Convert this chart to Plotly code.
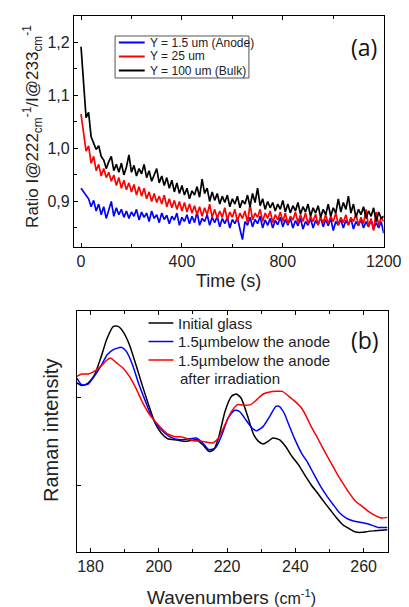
import plotly.graph_objects as go

# ---------------- Panel (a) data ----------------
time_s = list(range(0, 1201, 10))

ratio_anode = [
    0.925, 0.918, 0.912, 0.905, 0.890, 0.902, 0.882, 0.895, 0.875, 0.890,
    0.868, 0.885, 0.900, 0.872, 0.888, 0.875, 0.885, 0.870, 0.882, 0.868,
    0.880, 0.872, 0.885, 0.865, 0.880, 0.870, 0.878, 0.862, 0.882, 0.868,
    0.875, 0.860, 0.878, 0.866, 0.874, 0.858, 0.872, 0.865, 0.878, 0.855,
    0.870, 0.862, 0.875, 0.858, 0.872, 0.860, 0.880, 0.855, 0.868, 0.862,
    0.875, 0.855, 0.870, 0.860, 0.872, 0.852, 0.868, 0.858, 0.870, 0.850,
    0.866, 0.858, 0.870, 0.848, 0.828, 0.862, 0.855, 0.870, 0.852, 0.866,
    0.858, 0.872, 0.850, 0.865, 0.855, 0.868, 0.850, 0.864, 0.856, 0.870,
    0.852, 0.866, 0.855, 0.868, 0.850, 0.864, 0.854, 0.868, 0.848, 0.862,
    0.855, 0.868, 0.850, 0.864, 0.856, 0.870, 0.852, 0.866, 0.854, 0.868,
    0.845, 0.862, 0.855, 0.866, 0.850, 0.864, 0.856, 0.868, 0.848, 0.862,
    0.854, 0.866, 0.850, 0.862, 0.852, 0.865, 0.848, 0.860, 0.850, 0.862,
    0.840,
]

ratio_25um = [
    1.065, 1.030, 0.995, 1.005, 0.972, 0.985, 0.958, 0.970, 0.948, 0.962,
    0.945, 0.955, 0.938, 0.950, 0.930, 0.945, 0.925, 0.940, 0.922, 0.935,
    0.918, 0.932, 0.912, 0.928, 0.910, 0.925, 0.905, 0.918, 0.900, 0.915,
    0.898, 0.910, 0.895, 0.912, 0.890, 0.905, 0.888, 0.902, 0.885, 0.900,
    0.882, 0.898, 0.880, 0.895, 0.878, 0.892, 0.875, 0.890, 0.872, 0.888,
    0.875, 0.895, 0.870, 0.885, 0.868, 0.882, 0.870, 0.888, 0.865, 0.880,
    0.870, 0.885, 0.862, 0.878, 0.868, 0.882, 0.860, 0.895, 0.865, 0.878,
    0.870, 0.885, 0.862, 0.878, 0.868, 0.882, 0.860, 0.875, 0.865, 0.880,
    0.862, 0.878, 0.858, 0.872, 0.865, 0.880, 0.860, 0.875, 0.862, 0.878,
    0.858, 0.872, 0.862, 0.876, 0.855, 0.870, 0.860, 0.875, 0.858, 0.872,
    0.862, 0.878, 0.856, 0.870, 0.860, 0.875, 0.855, 0.870, 0.862, 0.876,
    0.855, 0.870, 0.858, 0.885, 0.852, 0.868, 0.845, 0.880, 0.855, 0.870,
    0.862,
]

ratio_bulk = [
    1.192, 1.125, 1.058, 1.068, 1.022, 1.010, 0.998, 1.005, 0.985, 0.978,
    0.962, 0.975, 0.985, 0.958, 0.970, 0.955, 0.972, 0.950, 0.965, 0.988,
    0.955, 0.968, 0.948, 0.962, 0.952, 0.970, 0.945, 0.958, 0.938, 0.950,
    0.962, 0.935, 0.948, 0.930, 0.945, 0.925, 0.940, 0.918, 0.935, 0.915,
    0.930, 0.912, 0.925, 0.905, 0.920, 0.912, 0.928, 0.908, 0.942, 0.915,
    0.925, 0.900, 0.918, 0.902, 0.915, 0.895, 0.910, 0.898, 0.912, 0.890,
    0.905, 0.895, 0.910, 0.888, 0.902, 0.895, 0.912, 0.890, 0.915, 0.898,
    0.925, 0.892, 0.905, 0.885, 0.900, 0.888, 0.898, 0.882, 0.895, 0.885,
    0.902, 0.880, 0.895, 0.878, 0.892, 0.882, 0.898, 0.876, 0.890, 0.880,
    0.895, 0.872, 0.888, 0.878, 0.892, 0.870, 0.885, 0.875, 0.895, 0.872,
    0.888, 0.878, 0.905, 0.880, 0.898, 0.885, 0.910, 0.878, 0.895, 0.870,
    0.885, 0.875, 0.890, 0.868, 0.882, 0.872, 0.888, 0.862, 0.880, 0.868,
    0.872,
]

series_a_names = ["Y = 1.5 um (Anode)", "Y = 25 um", "Y = 100 um (Bulk)"]
a_ytick_vals = [0.9, 1.0, 1.1, 1.2]
a_ytick_text = ["0,9", "1,0", "1,1", "1,2"]
a_xtick_vals = [0, 400, 800, 1200]

# ---------------- Panel (b) data ----------------
wn_initial = [176.0, 177.6, 179.3, 181.1, 183.0, 184.9, 186.7, 188.1, 189.5, 191.4,
              193.3, 195.1, 197.0, 198.9, 200.7, 202.6, 205.4, 208.2, 211.0, 212.9,
              214.7, 216.1, 217.5, 219.4, 221.3, 222.7, 224.1, 225.9, 227.8, 229.2,
              230.6, 232.0, 233.4, 235.3, 237.1, 239.0, 240.9, 242.7, 244.6, 246.5,
              248.3, 250.2, 252.1, 253.9, 255.8, 257.7, 259.6, 261.4, 263.3, 267.0]
int_initial = [2.158, 2.130, 2.158, 2.244, 2.440, 2.665, 2.797, 2.797, 2.740, 2.590,
               2.365, 2.140, 1.914, 1.707, 1.594, 1.530, 1.515, 1.500, 1.519, 1.462,
               1.387, 1.406, 1.538, 1.838, 2.008, 2.034, 1.989, 1.800, 1.575, 1.500,
               1.470, 1.500, 1.538, 1.519, 1.444, 1.331, 1.237, 1.124, 1.011, 0.917,
               0.823, 0.729, 0.635, 0.560, 0.515, 0.477, 0.474, 0.485, 0.492, 0.504]

wn_anode = [176.0, 177.4, 179.3, 181.1, 183.0, 184.9, 186.7, 189.1, 190.5, 192.3,
            194.2, 196.1, 197.9, 199.8, 201.7, 203.5, 206.3, 209.1, 211.0, 212.9,
            214.7, 216.6, 218.5, 220.3, 222.2, 223.6, 225.5, 227.3, 228.7, 230.6,
            232.5, 234.3, 235.3, 236.7, 238.1, 239.9, 241.8, 243.7, 245.5, 247.4,
            249.3, 251.1, 253.0, 254.9, 256.8, 258.6, 261.4, 264.2, 267.0]
int_anode = [2.214, 2.139, 2.147, 2.233, 2.346, 2.477, 2.534, 2.560, 2.515, 2.365,
             2.140, 1.951, 1.782, 1.669, 1.594, 1.545, 1.519, 1.530, 1.538, 1.481,
             1.406, 1.425, 1.575, 1.763, 1.850, 1.838, 1.744, 1.650, 1.620, 1.669,
             1.782, 1.895, 1.895, 1.820, 1.688, 1.519, 1.368, 1.256, 1.124, 0.992,
             0.880, 0.786, 0.692, 0.635, 0.605, 0.590, 0.568, 0.530, 0.530]

wn_irrad = [176.0, 177.4, 179.3, 181.1, 183.0, 184.4, 185.8, 187.7, 189.5, 191.4,
            193.3, 195.1, 197.0, 198.9, 200.7, 202.6, 204.5, 207.3, 210.1, 212.9,
            215.7, 217.5, 219.4, 221.3, 223.1, 225.0, 226.9, 228.7, 230.6, 232.5,
            234.3, 236.2, 238.1, 239.9, 241.8, 243.2, 244.6, 246.5, 248.3, 250.2,
            252.1, 253.9, 255.8, 257.7, 259.6, 261.4, 263.3, 265.2, 267.0]
int_irrad = [2.233, 2.259, 2.259, 2.289, 2.346, 2.402, 2.440, 2.383, 2.327, 2.233,
             2.100, 1.951, 1.820, 1.726, 1.650, 1.583, 1.556, 1.545, 1.508, 1.500,
             1.481, 1.538, 1.688, 1.838, 1.914, 1.906, 1.914, 1.970, 2.034, 2.056,
             2.064, 2.064, 2.008, 1.951, 1.876, 1.782, 1.669, 1.538, 1.406, 1.274,
             1.143, 1.030, 0.917, 0.823, 0.767, 0.710, 0.665, 0.635, 0.643]

series_b_names = ["Initial glass", "1.5\u00b5mbelow the anode", "1.5\u00b5mbelow the anode"]
b_extra_line = "after irradiation"
b_xtick_vals = [180, 200, 220, 240, 260]

# ---------------- Layout helpers ----------------
W, H = 409, 607
def PX(x):
    return x / W
def PY(y):
    return 1 - y / H

FONT = "Arial"
BLUE, RED, BLACK = "#0000ff", "#ff0000", "#000000"

fig = go.Figure()

for yv, col, nm in [(ratio_anode, BLUE, series_a_names[0]),
                    (ratio_25um, RED, series_a_names[1]),
                    (ratio_bulk, BLACK, series_a_names[2])]:
    fig.add_trace(go.Scatter(x=time_s, y=yv, mode="lines", name=nm,
                             line=dict(color=col, width=1.7),
                             xaxis="x", yaxis="y", showlegend=False))

for xv, yv, col, nm in [(wn_initial, int_initial, BLACK, series_b_names[0]),
                        (wn_anode, int_anode, BLUE, series_b_names[1]),
                        (wn_irrad, int_irrad, RED, series_b_names[2])]:
    fig.add_trace(go.Scatter(x=xv, y=yv, mode="lines", name=nm,
                             line=dict(color=col, width=1.5, shape="spline", smoothing=0.6),
                             xaxis="x2", yaxis="y2", showlegend=False))

def axis_common(size):
    return dict(showline=True, linecolor="black", linewidth=1.2, showgrid=False,
                zeroline=False, ticks="inside", tickcolor="black", ticklen=4,
                tickwidth=1, ticklabeloverflow="allow",
                tickfont=dict(family=FONT, size=size, color="#222"))

fig.update_layout(
    width=W, height=H, margin=dict(l=0, r=0, t=0, b=0),
    paper_bgcolor="white", plot_bgcolor="white",
    font=dict(family=FONT, color="#222"),
    xaxis=dict(domain=[PX(69), PX(393)], range=[-28, 1200], anchor="y",
               tickvals=a_xtick_vals, mirror="ticks",
               minor=dict(tickvals=[200, 600, 1000], ticks="inside", ticklen=2.5,
                          tickcolor="black"),
               **axis_common(16)),
    yaxis=dict(domain=[PY(239), PY(8)], range=[0.814, 1.25], anchor="x",
               tickvals=a_ytick_vals, ticktext=a_ytick_text, mirror=True,
               minor=dict(tickvals=[0.85, 0.95, 1.05, 1.15], ticks="inside",
                          ticklen=2.5, tickcolor="black"),
               **axis_common(16)),
    xaxis2=dict(domain=[PX(72), PX(397)], range=[176, 267], anchor="y2",
                tickvals=b_xtick_vals, mirror="ticks",
                minor=dict(tickvals=[190, 210, 230, 250], ticks="inside", ticklen=2.5,
                           tickcolor="black"),
                **axis_common(16)),
    yaxis2=dict(domain=[PY(544), PY(303)], range=[0.2525, 2.97], anchor="x2",
                tickvals=[1, 2], showticklabels=False, mirror=True,
                **axis_common(15)),
)

ann = []
ann.append(dict(text="Ratio I@222<sub>cm</sub><sup>-1</sup>/I@233<sub>cm</sub><sup>-1</sup>",
                x=PX(25), y=PY(118), xref="paper", yref="paper", textangle=-90,
                showarrow=False, font=dict(family=FONT, size=17, color="#222"),
                xanchor="center", yanchor="middle"))
ann.append(dict(text="Time (s)", x=PX(231), y=PY(273), xref="paper", yref="paper",
                showarrow=False, font=dict(family=FONT, size=18, color="#222"),
                xanchor="center", yanchor="middle"))
ann.append(dict(text="Raman intensity", x=PX(45), y=PY(423), xref="paper", yref="paper",
                textangle=-90, showarrow=False,
                font=dict(family=FONT, size=20, color="#222"),
                xanchor="center", yanchor="middle"))
ann.append(dict(text="Wavenumbers <span style='font-size:16px'>(cm<sup>-1</sup>)</span>",
                x=PX(234), y=PY(589), xref="paper", yref="paper", showarrow=False,
                font=dict(family=FONT, size=19, color="#222"),
                xanchor="center", yanchor="middle"))
ann.append(dict(text="(a)", x=PX(372), y=PY(39), xref="paper", yref="paper",
                showarrow=False, font=dict(family="Open Sans", size=23, color="#111"),
                xanchor="center", yanchor="middle"))
ann.append(dict(text="(b)", x=PX(373), y=PY(332), xref="paper", yref="paper",
                showarrow=False, font=dict(family="Open Sans", size=23, color="#111"),
                xanchor="center", yanchor="middle"))

shapes = []
shapes.append(dict(type="rect", xref="paper", yref="paper",
                   x0=PX(112), x1=PX(252), y0=PY(70), y1=PY(28),
                   line=dict(color="#555", width=1), fillcolor="rgba(0,0,0,0)"))
for i, (nm, col) in enumerate(zip(series_a_names, [BLUE, RED, BLACK])):
    yy = 34.5 + 14 * i
    shapes.append(dict(type="line", xref="paper", yref="paper",
                       x0=PX(116), x1=PX(143), y0=PY(yy), y1=PY(yy),
                       line=dict(color=col, width=2)))
    ann.append(dict(text=nm, x=PX(146), y=PY(yy), xref="paper", yref="paper",
                    showarrow=False, xanchor="left", yanchor="middle",
                    font=dict(family=FONT, size=12, color="#222")))
for i, (nm, col) in enumerate(zip(series_b_names, [BLACK, BLUE, RED])):
    yy = 315 + 18.5 * i
    shapes.append(dict(type="line", xref="paper", yref="paper",
                       x0=PX(147), x1=PX(173), y0=PY(yy), y1=PY(yy),
                       line=dict(color=col, width=1.5)))
    ann.append(dict(text=nm, x=PX(176), y=PY(yy), xref="paper", yref="paper",
                    showarrow=False, xanchor="left", yanchor="middle",
                    font=dict(family=FONT, size=15, color="#222")))
ann.append(dict(text=b_extra_line, x=PX(178), y=PY(370), xref="paper", yref="paper",
                showarrow=False, xanchor="left", yanchor="middle",
                font=dict(family=FONT, size=15, color="#222")))

fig.update_layout(annotations=ann, shapes=shapes)
fig.write_html("out.html")
